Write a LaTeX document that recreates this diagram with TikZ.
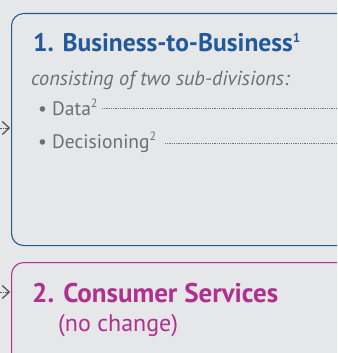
\documentclass[tikz,border=0pt]{standalone}
\usepackage{fontspec}
\setmainfont{PT Sans}
\usetikzlibrary{arrows.meta,calc}
\definecolor{bgc}{HTML}{E6E7E8}
\definecolor{bblue}{HTML}{22599A}
\definecolor{bpink}{HTML}{B12F8E}
\definecolor{tgray}{HTML}{6D6E71}
\definecolor{agray}{HTML}{58595B}
\tikzset{
  box/.style={draw, line width=1.1pt, rounded corners=12pt, anchor=north west, inner sep=0pt},
  txt/.style={anchor=base west, inner sep=0pt},
  leader/.style={tgray, line width=0.7pt, dash pattern=on 0.7pt off 1.1pt},
  feed/.style={agray, line width=0.9pt, dash pattern=on 1.2pt off 1.2pt, shorten >=3pt},
  feedtip/.style={agray, -{Straight Barb[length=7pt,width=13pt,line width=1.3pt]}}
}
\begin{document}
\begin{tikzpicture}[x=1pt,y=1pt]
\fill[bgc] (0,0) rectangle (337,-353);
\useasboundingbox (0,0) rectangle (337,-353);
\begin{scope}
\clip (0,0) rectangle (337,-353);
\node[box, bblue, minimum width=340pt, minimum height=232pt] (b2b) at (11,-13) {};
\node[box, bpink, minimum width=340pt, minimum height=120pt] (cs) at (11,-262) {};
\node[txt, bblue] (t1) at (33,-52) {\fontsize{25.5}{25}\selectfont\bfseries 1. Business-to-Business\raisebox{9pt}{\fontsize{13}{13}\selectfont 1}};
\node[txt, tgray] (t2) at (31,-85) {\fontsize{20.3}{20}\selectfont\itshape consisting of two sub-divisions:};
\node[txt, tgray] (d1) at (38,-115) {\fontsize{19.5}{20}\selectfont\textbullet\ Data\raisebox{7.5pt}{\fontsize{12}{12}\selectfont 2}};
\node[txt, tgray] (d2) at (38,-148) {\fontsize{19.5}{20}\selectfont\textbullet\ Decisioning\raisebox{7.5pt}{\fontsize{12}{12}\selectfont 2}};
\coordinate (l1) at (102,-108);
\coordinate (l1e) at (340,-108);
\coordinate (l2) at (165,-143);
\coordinate (l2e) at (340,-143);
\draw[leader] (l1) -- (l1e);
\draw[leader] (l2) -- (l2e);
\node[txt, bpink] (c1) at (32,-302) {\fontsize{27}{27}\selectfont\bfseries 2. Consumer Services};
\node[txt, bpink] (c2) at (58,-331) {\fontsize{24}{24}\selectfont (no change)};
\coordinate (a1) at (-2,-128);
\coordinate (a2) at (-2,-292);
\coordinate (e1) at ($(a1 -| b2b.west)+(-0.8,0)$);
\coordinate (e2) at ($(a2 -| cs.west)+(-0.8,0)$);
\draw[feed] (a1) -- (e1);
\draw[feed] (a2) -- (e2);
\draw[feedtip] ($(e1)+(-4,0)$) -- (e1);
\draw[feedtip] ($(e2)+(-4,0)$) -- (e2);
\end{scope}
\end{tikzpicture}
\end{document}
